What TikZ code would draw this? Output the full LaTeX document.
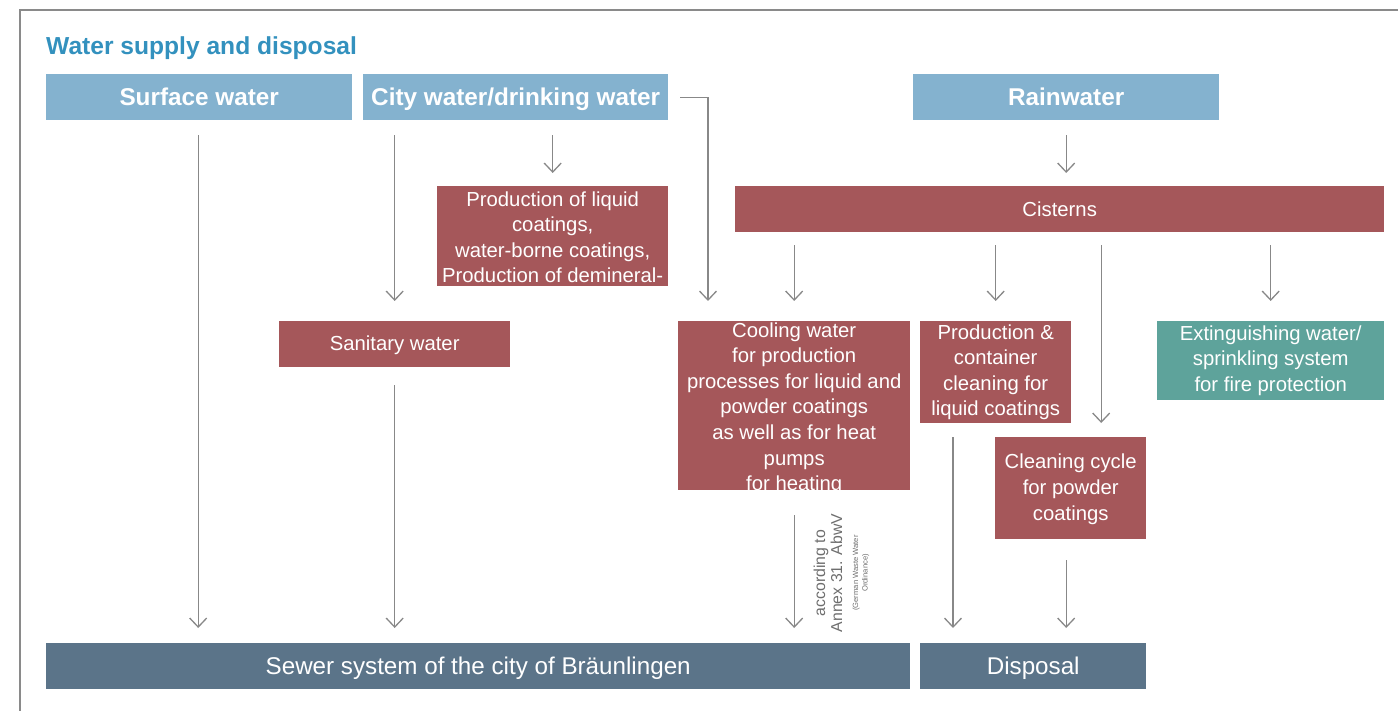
\documentclass[tikz,border=0pt]{standalone}
\usepackage{fontspec}
\setmainfont{Liberation Sans}
\usetikzlibrary{arrows.meta}
\definecolor{hdrblue}{HTML}{84B2CF}
\definecolor{boxred}{HTML}{A5575A}
\definecolor{boxteal}{HTML}{5EA39B}
\definecolor{boxslate}{HTML}{5B7489}
\definecolor{titleblue}{HTML}{3391BE}
\definecolor{linegray}{HTML}{888888}
\definecolor{framegray}{HTML}{8A8A8A}
\definecolor{notegray}{HTML}{6E6E6E}
\begin{document}
\begin{tikzpicture}[x=1pt,y=-1pt,
  box/.style={fill=#1, draw=none, inner sep=0pt, anchor=north west},
  hdrtxt/.style={text=white, text height=20pt, text depth=3pt, font=\fontsize{24.3}{28}\selectfont\bfseries},
  bigtxt/.style={text=white, text height=20pt, text depth=3pt, font=\fontsize{24.2}{28}\selectfont},
  lbl/.style={text=white, align=center, inner sep=0pt, font=\fontsize{20.3}{25.6}\selectfont},
  arr/.style={draw=linegray, line width=1.3pt, -{Straight Barb[length=9pt,width=17pt]}}]
\useasboundingbox (0,0) rectangle (1398,711);
% frame
\draw[framegray, line width=1.5pt] (20,711) -- (20,10) -- (1398,10);
% title
\node[anchor=base west, inner sep=0pt, text=titleblue, font=\fontsize{24.6}{28}\selectfont\bfseries] (title) at (46,55) {Water supply and disposal};
% headers
\node[box=hdrblue, minimum width=306pt, minimum height=46pt, hdrtxt] (surf) at (46,74) {Surface water};
\node[box=hdrblue, minimum width=305pt, minimum height=46pt, hdrtxt] (city) at (363,74) {City water/drinking water};
\node[box=hdrblue, minimum width=306pt, minimum height=46pt, hdrtxt] (rain) at (913,74) {Rainwater};
% red boxes
\node[box=boxred, minimum width=231pt, minimum height=100pt] (prodliq) at (437,186) {};
\node[lbl] (tprodliq) at ([yshift=-1pt]prodliq.center) {Production of liquid\\coatings,\\water-borne coatings,\\Production of demineral-};
\node[box=boxred, minimum width=649pt, minimum height=46pt] (cist) at (735,186) {};
\node[lbl] (tcist) at (cist.center) {Cisterns};
\node[box=boxred, minimum width=231pt, minimum height=46pt] (sanit) at (279,321) {};
\node[lbl] (tsanit) at ([yshift=-1pt]sanit.center) {Sanitary water};
\node[box=boxred, minimum width=232pt, minimum height=169pt] (cool) at (678,321) {};
\node[lbl] (tcool) at ([yshift=-3pt]cool.center) {Cooling water\\for production\\processes for liquid and\\powder coatings\\as well as for heat\\pumps\\for heating};
\node[box=boxred, minimum width=151pt, minimum height=102pt] (prodcont) at (920,321) {};
\node[lbl] (tprodcont) at (prodcont.center) {Production \&\\container\\cleaning for\\liquid coatings};
\node[box=boxteal, minimum width=227pt, minimum height=79pt] (ext) at (1157,321) {};
\node[lbl] (text) at (ext.center) {Extinguishing water/\\sprinkling system\\for fire protection};
\node[box=boxred, minimum width=151pt, minimum height=102pt] (clean) at (995,437) {};
\node[lbl] (tclean) at ([yshift=-1pt]clean.center) {Cleaning cycle\\for powder\\coatings};
% bottom
\node[box=boxslate, minimum width=864pt, minimum height=46pt, bigtxt] (sewer) at (46,643) {Sewer system of the city of Bräunlingen};
\node[box=boxslate, minimum width=226pt, minimum height=46pt, bigtxt] (disp) at (920,643) {Disposal};
% note
\node[rotate=90, align=center, inner sep=0pt, text=notegray, font=\fontsize{15.8}{17}\selectfont] (note) at (828,573) {according to\\Annex 31. AbwV};
\node[rotate=90, align=center, inner sep=0pt, text=notegray, font=\fontsize{7.6}{9.5}\selectfont] (notesmall) at (861,573) {(German Waste Water\\Ordinance)};
% arrows
\draw[arr, shorten <=15pt, shorten >=15pt] ([xshift=-1pt]surf.south) -- ([xshift=-1pt]surf.south |- sewer.north);
\draw[arr, shorten <=15pt, shorten >=20pt] (sanit.north |- city.south) -- (sanit.north);
\draw[arr, shorten <=15pt, shorten >=13pt] (prodliq.north |- city.south) -- (prodliq.north);
\draw[arr, shorten <=12pt, shorten >=20pt] (city.east) -| ([xshift=30pt]cool.north west);
\draw[arr, shorten <=15pt, shorten >=13pt] (rain.south) -- (rain.south |- cist.north);
\draw[arr, shorten <=13pt, shorten >=20pt] (cool.north |- cist.south) -- (cool.north);
\draw[arr, shorten <=13pt, shorten >=20pt] (prodcont.north |- cist.south) -- (prodcont.north);
\draw[arr, shorten <=13pt, shorten >=14pt] ([xshift=30.5pt]clean.north |- cist.south) -- ([xshift=30.5pt]clean.north);
\draw[arr, shorten <=13pt, shorten >=20pt] (ext.north |- cist.south) -- (ext.north);
\draw[arr, shorten <=18pt, shorten >=15pt] (sanit.south) -- (sanit.south |- sewer.north);
\draw[arr, shorten <=25pt, shorten >=15pt] (cool.south) -- (cool.south |- sewer.north);
\draw[arr, shorten <=14pt, shorten >=15pt] ([xshift=33pt]prodcont.south west) -- ([xshift=33pt]prodcont.south west |- disp.north);
\draw[arr, shorten <=21pt, shorten >=15pt] ([xshift=-4.5pt]clean.south) -- ([xshift=-4.5pt]clean.south |- disp.north);
\end{tikzpicture}
\end{document}
